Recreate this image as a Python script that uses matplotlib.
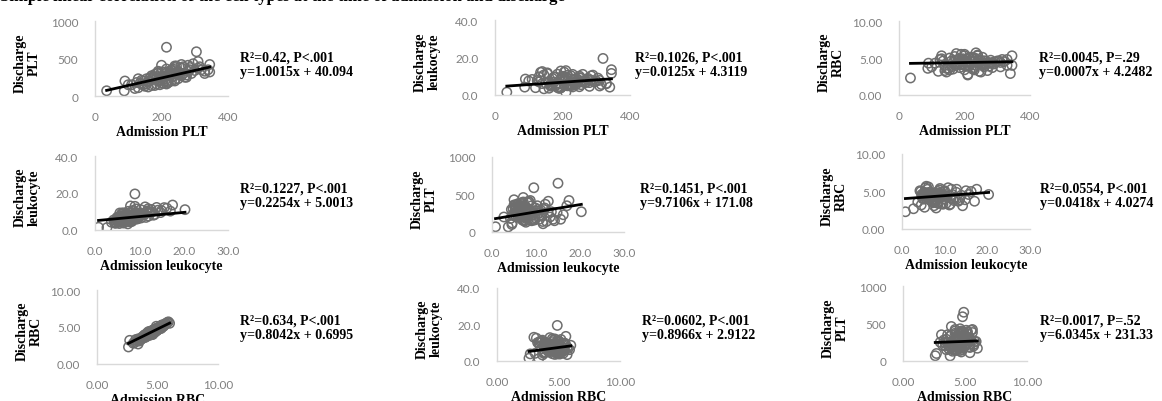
import numpy as np
import matplotlib
matplotlib.use("Agg")
import matplotlib.pyplot as plt

# values per patient (same patients in every panel)
adm_plt = [35, 210, 88, 215, 305, 320, 260, 345, 345, 90,
           130, 310, 330, 200, 240, 285, 230, 190, 160, 140,
           180, 205, 225, 195, 240, 170, 215, 250, 155, 265,
           185, 230, 275, 145, 200, 220, 260, 175, 290, 210,
           165, 235, 195, 125, 245, 280, 205, 150, 255, 190,
           230, 300, 170, 215, 135, 240, 270, 185, 225, 160,
           250, 200, 315, 180, 210, 235, 110, 285, 195, 265,
           175, 220, 245, 155, 330, 205, 190, 260, 140, 230,
           275, 120, 215, 295, 165, 185, 250, 200, 235, 310,
           145, 225, 280, 170, 340, 100, 130, 255, 210, 240]
dis_plt = [70, 200, 68, 650, 590, 350, 270, 420, 320, 200,
           230, 460, 300, 410, 400, 380, 350, 330, 120, 160,
           290, 170, 330, 250, 220, 140, 360, 280, 230, 390,
           160, 300, 250, 200, 320, 180, 370, 260, 300, 260,
           240, 360, 150, 180, 290, 410, 220, 130, 280, 310,
           200, 340, 270, 160, 170, 380, 250, 230, 300, 190,
           330, 240, 390, 140, 320, 260, 150, 350, 210, 300,
           250, 180, 400, 160, 330, 270, 200, 420, 210, 340,
           280, 100, 190, 430, 200, 260, 230, 170, 290, 370,
           150, 270, 330, 220, 350, 150, 110, 310, 250, 200]
adm_wbc = [0.8, 2.7, 3.7, 15.0, 9.5, 9.0, 20.3, 17.5, 12.0, 6.0,
           9.2, 7.1, 5.3, 12.8, 8.4, 6.6, 10.3, 7.8, 4.6, 9.7,
           5.8, 13.9, 7.2, 6.3, 8.9, 11.5, 5.0, 7.5, 16.2, 8.1,
           6.9, 4.4, 10.6, 7.4, 5.6, 9.4, 12.1, 6.2, 8.6, 14.8,
           7.0, 5.2, 9.0, 6.7, 11.1, 8.3, 4.9, 7.7, 10.0, 6.4,
           13.2, 5.9, 8.8, 7.3, 15.6, 6.0, 9.6, 4.7, 11.8, 7.9,
           5.4, 8.5, 6.8, 12.4, 9.9, 5.7, 7.6, 17.0, 6.5, 10.4,
           8.0, 4.2, 7.1, 9.3, 6.1, 13.5, 5.5, 8.7, 11.3, 6.6,
           7.4, 4.5, 9.8, 5.0, 8.2, 12.7, 6.3, 10.8, 7.8, 5.8,
           14.2, 8.4, 6.9, 9.1, 5.3, 7.2, 11.6, 4.8, 8.0, 6.7]
dis_wbc = [1.5, 1.3, 4.2, 10.5, 9.0, 19.5, 11.0, 13.5, 11.5, 8.5,
           7.0, 4.8, 6.2, 9.8, 5.5, 7.9, 11.0, 4.5, 3.6, 6.1,
           5.0, 12.2, 8.6, 3.9, 7.3, 6.8, 5.7, 10.1, 11.8, 7.6,
           6.4, 4.3, 8.9, 3.3, 9.2, 5.9, 7.5, 6.9, 10.6, 9.4,
           5.3, 6.6, 12.8, 7.7, 8.2, 4.6, 5.1, 6.3, 9.0, 6.0,
           8.0, 7.4, 5.8, 4.9, 12.1, 8.8, 6.7, 4.0, 10.3, 7.1,
           4.4, 10.0, 5.6, 9.5, 7.8, 6.2, 8.3, 10.2, 3.8, 6.5,
           9.6, 5.4, 7.0, 11.4, 6.0, 8.4, 3.5, 7.2, 12.5, 5.2,
           8.1, 3.9, 7.4, 6.9, 4.7, 11.1, 9.3, 8.6, 6.1, 7.8,
           10.7, 5.0, 6.6, 8.9, 4.2, 7.5, 9.7, 5.5, 13.0, 6.4]
adm_rbc = [2.6, 3.4, 3.8, 4.9, 4.8, 4.9, 5.0, 5.6, 4.6, 4.6,
           5.1, 3.9, 4.4, 5.5, 4.2, 4.8, 3.6, 5.0, 4.7, 4.1,
           5.3, 4.5, 3.8, 4.9, 5.7, 4.3, 4.6, 3.3, 5.2, 4.8,
           4.0, 5.4, 4.4, 3.7, 5.0, 4.6, 4.2, 5.8, 4.5, 3.9,
           4.7, 5.2, 4.3, 4.9, 3.5, 5.1, 4.6, 4.0, 5.5, 4.4,
           3.8, 4.8, 5.3, 4.2, 4.7, 5.6, 3.6, 4.5, 5.0, 4.1,
           4.9, 3.4, 5.2, 4.6, 4.3, 5.9, 4.8, 3.9, 5.1, 4.5,
           4.0, 5.4, 4.7, 3.7, 5.0, 4.4, 5.7, 4.2, 3.2, 4.9,
           4.1, 2.7, 5.3, 4.6, 3.8, 5.0, 4.5, 6.0, 4.3, 4.7,
           3.5, 5.2, 4.4, 4.8, 3.1, 4.0, 5.4, 4.6, 3.0, 4.9]
dis_rbc = [2.3, 2.7, 3.6, 5.1, 4.6, 4.5, 4.6, 5.3, 4.0, 4.3,
           4.9, 3.8, 4.0, 5.3, 4.3, 4.4, 3.4, 4.8, 4.6, 4.0,
           4.8, 4.5, 3.5, 4.5, 5.4, 4.1, 4.0, 3.1, 5.0, 4.6,
           3.7, 5.0, 4.3, 3.6, 4.7, 4.5, 3.8, 5.6, 4.2, 3.9,
           4.4, 4.9, 4.2, 4.8, 3.2, 4.7, 4.5, 3.6, 5.1, 4.1,
           3.7, 4.6, 5.2, 3.9, 4.6, 5.3, 3.3, 4.4, 4.6, 3.8,
           4.7, 3.4, 4.8, 4.2, 4.4, 5.7, 4.3, 3.7, 4.9, 4.3,
           4.0, 5.1, 4.6, 3.4, 4.8, 3.9, 5.5, 4.1, 3.3, 4.5,
           3.9, 3.2, 5.0, 4.4, 3.5, 4.9, 4.2, 5.5, 4.0, 4.4,
           3.1, 5.0, 4.3, 4.7, 2.9, 3.8, 5.3, 4.1, 2.8, 4.6]

# trend lines and statistics printed next to each panel
slopes = [1.0015, 0.0125, 0.0007, 0.2254, 9.7106, 0.0418, 0.8042, 0.8966, 6.0345]
intercepts = [40.094, 4.3119, 4.2482, 5.0013, 171.08, 4.0274, 0.6995, 2.9122, 231.33]
stats = ["R²=0.42, P<.001", "R²=0.1026, P<.001", "R²=0.0045, P=.29",
         "R²=0.1227, P<.001", "R²=0.1451, P<.001", "R²=0.0554, P<.001",
         "R²=0.634, P<.001", "R²=0.0602, P<.001", "R²=0.0017, P=.52"]
equations = ["y=1.0015x + 40.094", "y=0.0125x + 4.3119", "y=0.0007x + 4.2482",
             "y=0.2254x + 5.0013", "y=9.7106x + 171.08", "y=0.0418x + 4.0274",
             "y=0.8042x + 0.6995", "y=0.8966x + 2.9122", "y=6.0345x + 231.33"]

# x variable / y variable for each panel (row by row)
panel_vars = [("PLT", "PLT"), ("PLT", "leukocyte"), ("PLT", "RBC"),
              ("leukocyte", "leukocyte"), ("leukocyte", "PLT"), ("leukocyte", "RBC"),
              ("RBC", "RBC"), ("RBC", "leukocyte"), ("RBC", "PLT")]

adm = {"PLT": adm_plt, "leukocyte": adm_wbc, "RBC": adm_rbc}
dis = {"PLT": dis_plt, "leukocyte": dis_wbc, "RBC": dis_rbc}

x_ticks = {"PLT": [0, 200, 400], "leukocyte": [0, 10, 20, 30], "RBC": [0, 5, 10]}
y_ticks = {"PLT": [0, 500, 1000], "leukocyte": [0, 20, 40], "RBC": [0, 5, 10]}
fmt = {"PLT": "{:.0f}", "leukocyte": "{:.1f}", "RBC": "{:.2f}"}

W, H = 1162, 402
fig = plt.figure(figsize=(W / 100, H / 100), dpi=100)

# axes boxes in pixels: left, top, right, bottom
boxes = [(95, 22, 228, 97), (495, 21, 630, 96), (899, 22, 1030, 96),
         (95, 157, 228, 231), (492, 158, 624, 233), (902, 155, 1030, 230),
         (97, 291, 218, 365), (497, 289, 620, 362), (903, 287, 1027, 362)]
eq_pos = [(240, 65), (635, 65), (1039, 65),
          (240, 196), (640, 196), (1040, 196),
          (240, 328), (642, 328), (1040, 328)]

serif = ["Liberation Serif", "DejaVu Serif"]
tick_font = ["Lato", "DejaVu Sans"]
axis_col = "#d9d9d9"
tick_col = "#808080"

for i, (xv, yv) in enumerate(panel_vars):
    l, t, r, b = boxes[i]
    ax = fig.add_axes([l / W, 1 - b / H, (r - l) / W, (b - t) / H])
    xs = np.array(adm[xv])
    ys = np.array(dis[yv])

    ax.scatter(xs, ys, s=45, facecolors="none", edgecolors="#6e6e6e",
               linewidths=1.1, zorder=2)
    xl = np.array([xs.min(), xs.max()])
    ax.plot(xl, slopes[i] * xl + intercepts[i], color="black", lw=2, zorder=3)

    xt = x_ticks[xv]
    yt = y_ticks[yv]
    ax.set_xlim(xt[0], xt[-1])
    ax.set_ylim(yt[0], yt[-1])
    ax.set_xticks(xt)
    ax.set_yticks(yt)
    ax.set_xticklabels([fmt[xv].format(v) for v in xt])
    ax.set_yticklabels([fmt[yv].format(v) for v in yt])
    ax.tick_params(length=0, labelsize=8.5, colors=tick_col)
    ax.tick_params(axis="x", pad=10.5)
    ax.tick_params(axis="y", pad=12)
    for lab in ax.get_xticklabels() + ax.get_yticklabels():
        lab.set_family(tick_font)

    for s in ["top", "right"]:
        ax.spines[s].set_visible(False)
    for s in ["left", "bottom"]:
        ax.spines[s].set_color(axis_col)
        ax.spines[s].set_linewidth(1)
    ax.set_facecolor("none")

    ax.set_xlabel("Admission " + xv, family=serif, fontweight="bold", fontsize=10)
    ax.xaxis.set_label_coords(0.5, -29 / (b - t))
    ax.set_ylabel("Discharge\n" + yv, family=serif, fontweight="bold", fontsize=10,
                  linespacing=1.15)
    ax.yaxis.set_label_coords(-54 / (r - l), 0.45)

    ex, ey = eq_pos[i]
    fig.text(ex / W, 1 - ey / H, stats[i] + "\n" + equations[i], family=serif,
             fontweight="bold", fontsize=10, ha="left", va="center",
             linespacing=1.15)

# caption cut off at the top edge of the image
fig.text(0.0, 1 - 1 / H,
         "Simple linear correlation of the cell types at the time of admission and discharge",
         family=serif, fontweight="bold", fontsize=12, ha="left", va="baseline")

fig.savefig("out.png", dpi=100)
